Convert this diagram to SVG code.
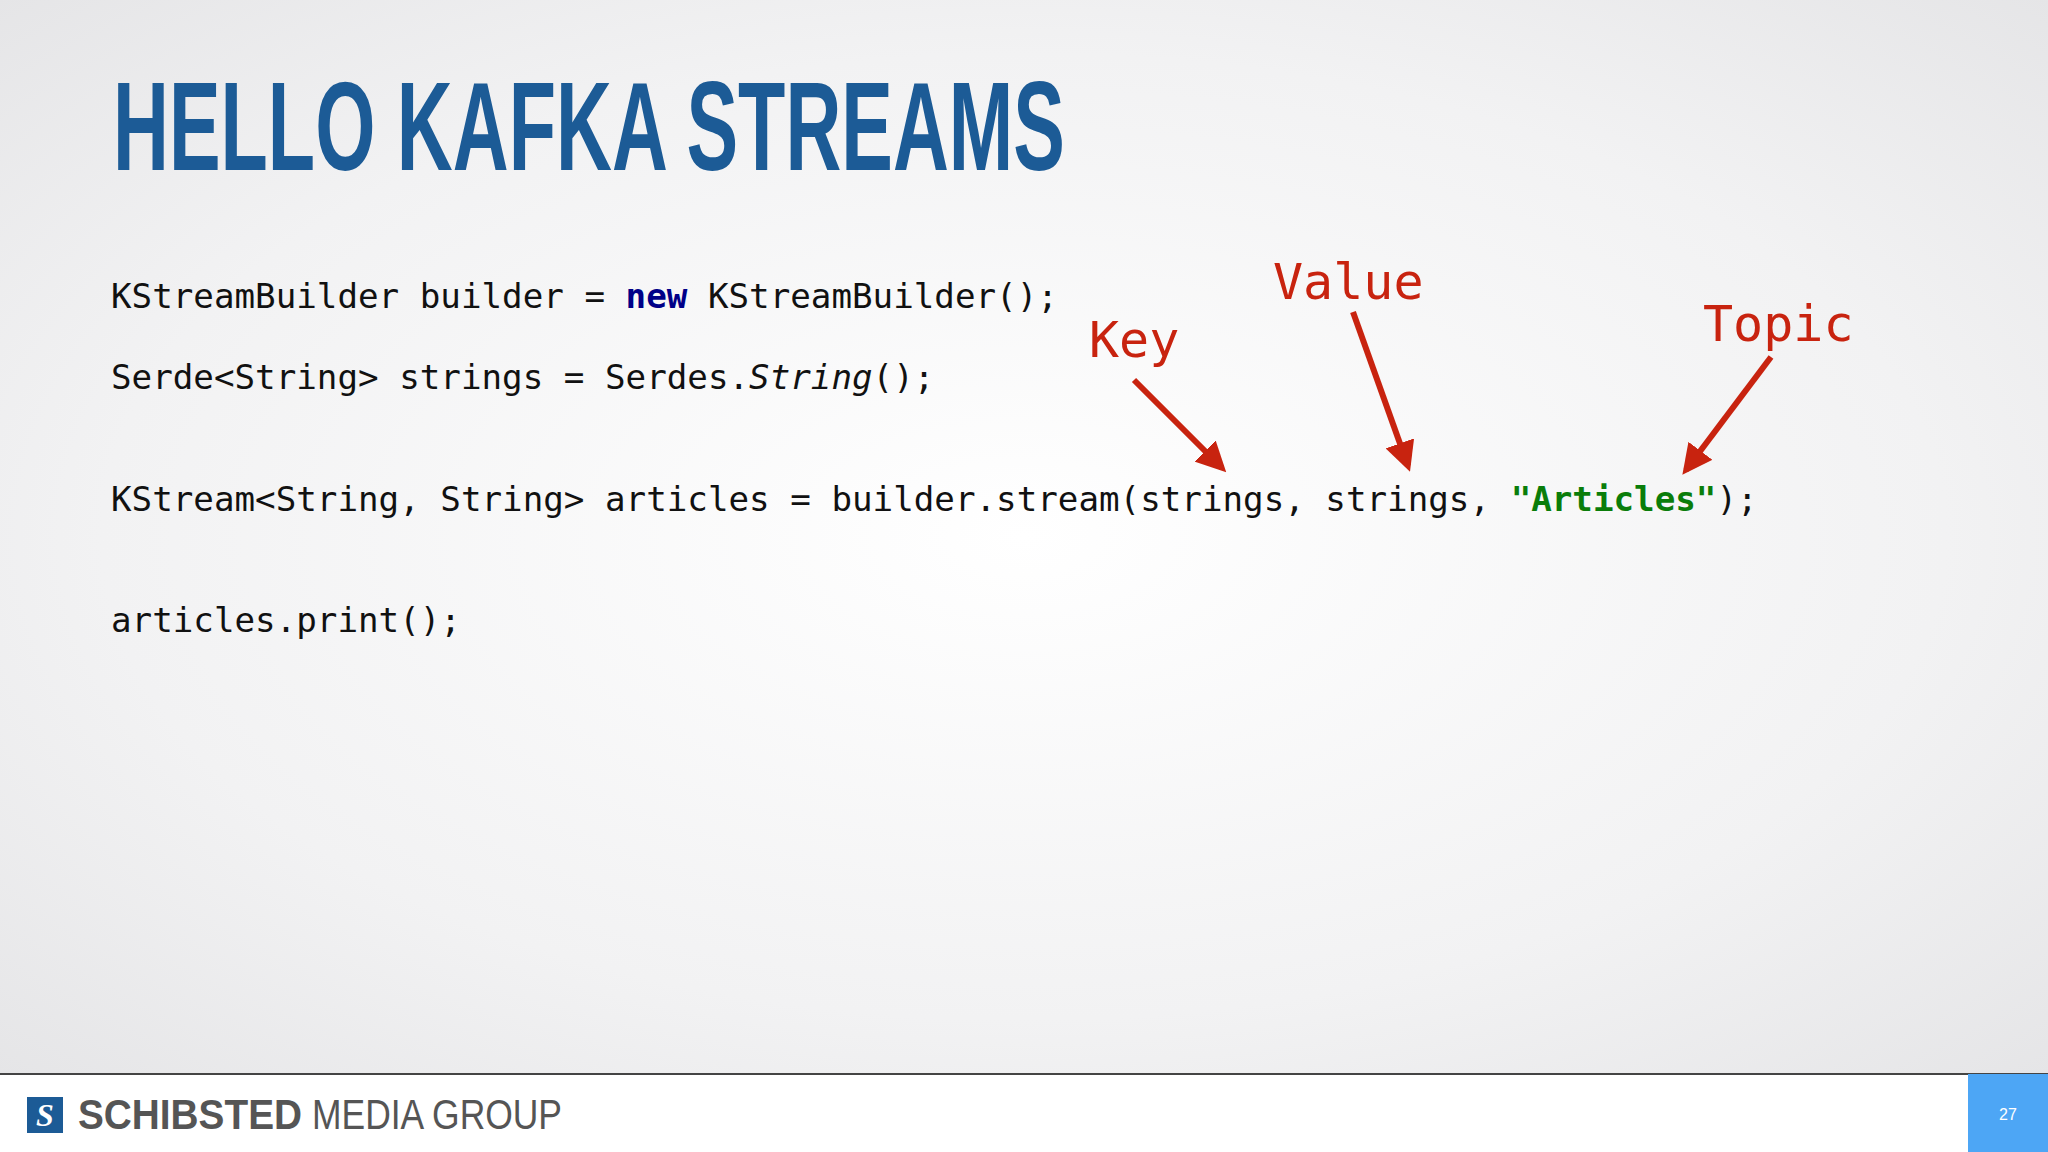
<svg xmlns="http://www.w3.org/2000/svg" width="2048" height="1152" viewBox="0 0 2048 1152">
<defs>
<radialGradient id="bg" cx="0.5" cy="0.5" r="0.75">
<stop offset="0" stop-color="#ffffff"/><stop offset="0.6" stop-color="#f2f2f3"/><stop offset="1" stop-color="#e3e3e5"/>
</radialGradient>
<marker id="ah" viewBox="0 0 10 10" refX="8" refY="5" markerWidth="5" markerHeight="5" orient="auto" markerUnits="strokeWidth">
<path d="M0,0 L10,5 L0,10 Z" fill="#c8230f"/>
</marker>
<style>
.code{font-family:"DejaVu Sans Mono",monospace;font-size:34.2px;fill:#111}
.lbl{font-family:"DejaVu Sans Mono",monospace;font-size:50px;fill:#c8230f}
.arr{stroke:#c8230f;stroke-width:6;fill:none;marker-end:url(#ah)}
.ft{font-family:"Liberation Sans Narrow","Liberation Sans",sans-serif;font-size:42px;fill:#555}
</style>
</defs>
<rect width="2048" height="1073" fill="url(#bg)"/>
<rect y="1073" width="2048" height="79" fill="#ffffff"/>
<line x1="0" y1="1074" x2="2048" y2="1074" stroke="#444" stroke-width="2"/>
<text x="113" y="170" font-family="Liberation Sans Narrow, Liberation Sans, sans-serif" font-weight="bold" font-size="126" fill="#1c5b96" textLength="952" lengthAdjust="spacingAndGlyphs">HELLO KAFKA STREAMS</text>
<g id="code">
<text class="code" x="111" y="308">KStreamBuilder builder = <tspan font-weight="bold" fill="#000088">new</tspan> KStreamBuilder();</text>
<text class="code" x="111" y="389">Serde&lt;String&gt; strings = Serdes.<tspan font-style="italic">String</tspan>();</text>
<text class="code" x="111" y="511">KStream&lt;String, String&gt; articles = builder.stream(strings, strings, <tspan font-weight="bold" fill="#0a7d0a">"Articles"</tspan>);</text>
<text class="code" x="111" y="632">articles.print();</text>
</g>
<g id="key"><text class="lbl" x="1089" y="357">Key</text></g>
<g id="value"><text class="lbl" x="1273" y="299">Value</text></g>
<g id="topic"><text class="lbl" x="1703" y="341">Topic</text></g>
<g id="connectors">
<line class="arr" x1="1134" y1="380" x2="1222" y2="468"/>
<line class="arr" x1="1353" y1="312" x2="1408" y2="466"/>
<line class="arr" x1="1771" y1="357" x2="1686" y2="470"/>
</g>
<g id="footer">
<rect x="27" y="1097" width="36" height="36" fill="#1c5b96"/>
<text x="45" y="1126" text-anchor="middle" font-family="Liberation Serif, serif" font-style="italic" font-weight="bold" font-size="32" fill="#ffffff">S</text>
<text class="ft" x="78" y="1129" font-weight="bold" textLength="224" lengthAdjust="spacingAndGlyphs">SCHIBSTED</text>
<text class="ft" x="312" y="1129" textLength="250" lengthAdjust="spacingAndGlyphs">MEDIA GROUP</text>
<rect x="1968" y="1074" width="80" height="78" fill="#4da6f5"/>
<text x="2008" y="1120" text-anchor="middle" font-family="Liberation Sans Narrow, Liberation Sans, sans-serif" font-size="16" fill="#ffffff">27</text>
</g>
</svg>
